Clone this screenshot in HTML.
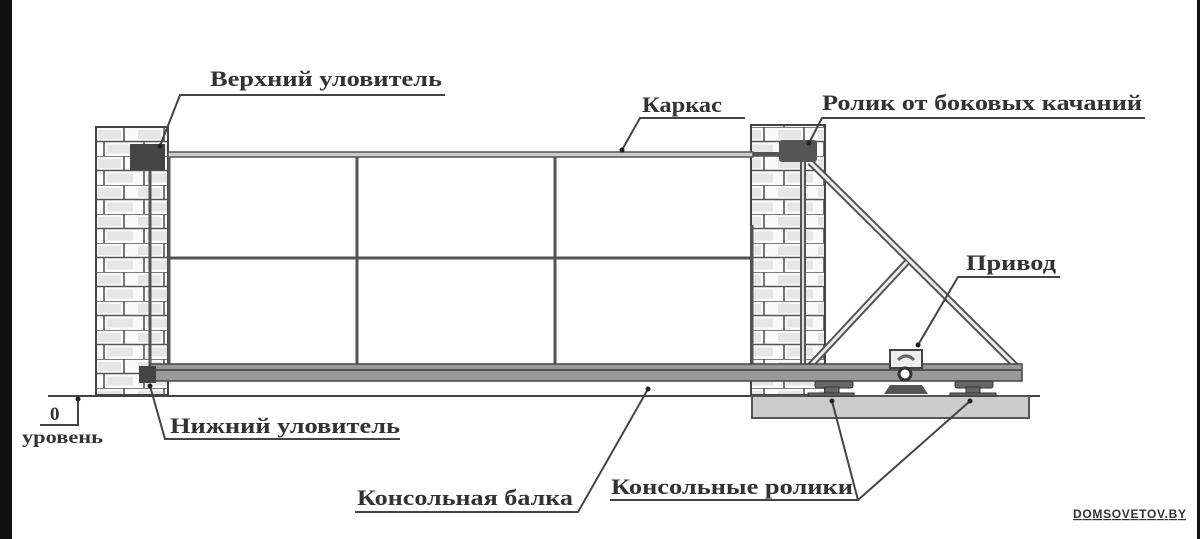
<!DOCTYPE html>
<html><head><meta charset="utf-8"><style>
html,body{margin:0;padding:0;background:#fff}
svg{display:block}
text{font-family:"Liberation Serif","DejaVu Serif",serif;font-weight:bold;fill:#333}
</style></head><body>
<svg width="1200" height="539" viewBox="0 0 1200 539" xmlns="http://www.w3.org/2000/svg">
<defs>
<pattern id="br" x="96" y="127" width="40" height="29" patternUnits="userSpaceOnUse">
<rect width="40" height="29" fill="#fafafa"/>
<g stroke="#555" stroke-width="1.6" fill="none">
<line x1="0" y1="0" x2="40" y2="0"/><line x1="0" y1="14.5" x2="40" y2="14.5"/>
<line x1="28" y1="0" x2="28" y2="14.5"/><line x1="8" y1="14.5" x2="8" y2="29"/>
</g>
<rect x="2" y="3" width="23" height="9" fill="#e6e6e6"/><rect x="11" y="17.5" width="26" height="9" fill="#e6e6e6"/>
</pattern>
</defs>
<rect x="0" y="0" width="12" height="539" fill="#111"/>
<rect x="1197" y="0" width="3" height="539" fill="#111"/>

<rect x="96" y="127" width="72" height="268" fill="url(#br)" stroke="#444" stroke-width="2"/>
<line x1="150" y1="165" x2="150" y2="370" stroke="#555" stroke-width="3"/>
<rect x="751" y="125" width="74" height="270" fill="url(#br)" stroke="#444" stroke-width="2"/>

<g stroke="#555" fill="none">
<rect x="168" y="152" width="585" height="5" fill="#ccc" stroke-width="1.5"/>
<line x1="753" y1="154" x2="790" y2="154" stroke-width="4"/>
<line x1="169" y1="157" x2="169" y2="366" stroke-width="3"/>
<line x1="357" y1="157" x2="357" y2="366" stroke-width="3"/>
<line x1="555" y1="157" x2="555" y2="366" stroke-width="3"/>
<line x1="752" y1="225" x2="752" y2="366" stroke-width="3"/>
<line x1="169" y1="258" x2="752" y2="258" stroke-width="3"/>
<line x1="803" y1="160" x2="803" y2="368" stroke-width="6"/>
<line x1="803" y1="160" x2="803" y2="368" stroke="#ddd" stroke-width="2"/>
<line x1="810" y1="162" x2="1018" y2="368" stroke-width="7"/>
<line x1="810" y1="162" x2="1018" y2="368" stroke="#eee" stroke-width="3"/>
<line x1="907" y1="262" x2="810" y2="366" stroke-width="7"/>
<line x1="907" y1="262" x2="810" y2="366" stroke="#eee" stroke-width="3"/>
</g>
<rect x="150" y="364" width="872" height="17" fill="#999" stroke="#444" stroke-width="1.5"/>
<line x1="150" y1="370" x2="1022" y2="370" stroke="#555" stroke-width="2"/>
<rect x="130" y="144" width="35" height="26" fill="#444"/>
<rect x="139" y="366" width="17" height="17" fill="#444"/>
<rect x="779" y="140" width="38" height="22" rx="3" fill="#555"/>

<line x1="48" y1="396" x2="1040" y2="396" stroke="#444" stroke-width="2"/>
<rect x="752" y="396" width="277" height="22" fill="#ccc" stroke="#555" stroke-width="2"/>
<g fill="#666" stroke="#333">
<rect x="815" y="381" width="38" height="7" rx="2"/><rect x="825" y="387" width="14" height="9"/><rect x="808" y="393" width="46" height="3"/>
<rect x="955" y="381" width="38" height="7" rx="2"/><rect x="966" y="387" width="14" height="9"/><rect x="950" y="393" width="46" height="3"/>
</g>
<rect x="890" y="350" width="32" height="18" fill="#eee" stroke="#444" stroke-width="2"/>
<path d="M898 360 Q906 352 914 360" stroke="#666" stroke-width="3" fill="none"/>
<circle cx="905" cy="374" r="6" fill="#fff" stroke="#333" stroke-width="3"/>
<path d="M884 394 L890 385 L922 385 L928 394 Z" fill="#555"/>

<g stroke="#444" stroke-width="2" fill="none">
<polyline points="445,95 180,95 160,146"/>
<polyline points="745,118 640,118 622,150"/>
<polyline points="1145,118 822,118 809,143"/>
<polyline points="1060,277 958,277 918,345"/>
<polyline points="400,439 165,439 150,386"/>
<polyline points="355,512 578,512 648,389"/>
<polyline points="610,500 858,500 832,401"/>
<polyline points="858,500 970,401"/>
<polyline points="40,425 78,425 78,399"/>
</g>
<g fill="#222"><circle cx="160" cy="146" r="2.5"/><circle cx="622" cy="150" r="2.5"/><circle cx="809" cy="143" r="2.5"/><circle cx="918" cy="345" r="2.5"/><circle cx="150" cy="386" r="2.5"/><circle cx="648" cy="389" r="2.5"/><circle cx="832" cy="401" r="2.5"/><circle cx="970" cy="401" r="2.5"/><circle cx="78" cy="399" r="2.5"/></g>

<g font-size="22">
<text x="210" y="86" textLength="232" lengthAdjust="spacingAndGlyphs">Верхний уловитель</text>
<text x="642" y="112" textLength="80" lengthAdjust="spacingAndGlyphs">Каркас</text>
<text x="822" y="110" textLength="320" lengthAdjust="spacingAndGlyphs">Ролик от боковых качаний</text>
<text x="966" y="270" textLength="90" lengthAdjust="spacingAndGlyphs">Привод</text>
<text x="170" y="433" textLength="230" lengthAdjust="spacingAndGlyphs">Нижний уловитель</text>
<text x="357" y="505" textLength="216" lengthAdjust="spacingAndGlyphs">Консольная балка</text>
<text x="611" y="494" textLength="242" lengthAdjust="spacingAndGlyphs">Консольные ролики</text>
</g>
<text x="50" y="420" font-size="19">0</text>
<text x="22" y="443" font-size="18" textLength="81" lengthAdjust="spacingAndGlyphs">уровень</text>
<text x="1073" y="518" font-size="12" textLength="113" style="font-family:'Liberation Sans',sans-serif;text-decoration:underline">DOMSOVETOV.BY</text>
</svg>
</body></html>
